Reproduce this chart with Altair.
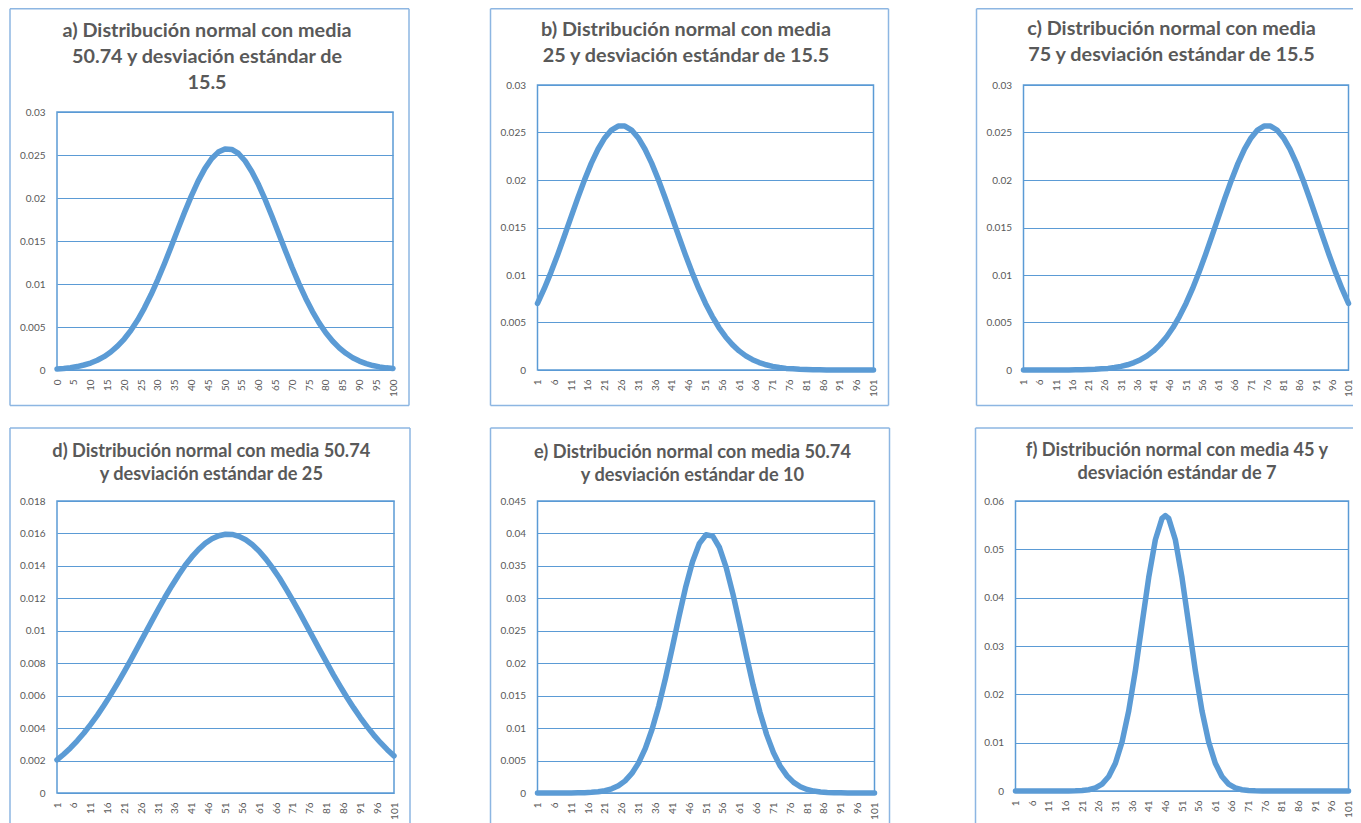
import altair as alt
import pandas as pd

# ---------------- data ----------------
X_A = [0, 2, 4, 6, 8, 10, 12, 14, 16, 18, 20, 22, 24, 26, 28, 30, 32, 34, 36, 38, 40,
       42, 44, 46, 48, 50, 52, 54, 56, 58, 60, 62, 64, 66, 68, 70, 72, 74, 76, 78, 80,
       82, 84, 86, 88, 90, 92, 94, 96, 98, 100]
X_CAT = [1, 3, 5, 7, 9, 11, 13, 15, 17, 19, 21, 23, 25, 27, 29, 31, 33, 35, 37, 39, 41,
         43, 45, 47, 49, 51, 53, 55, 57, 59, 61, 63, 65, 67, 69, 71, 73, 75, 77, 79, 81,
         83, 85, 87, 89, 91, 93, 95, 97, 99, 101]
X_F = [1, 3, 5, 7, 9, 11, 13, 15, 17, 19, 21, 23, 25, 27, 29, 31, 33, 35, 37, 39, 41,
       43, 45, 46, 47, 49, 51, 53, 55, 57, 59, 61, 63, 65, 67, 69, 71, 73, 75, 77, 79,
       81, 83, 85, 87, 89, 91, 93, 95, 97, 99, 101]

Y_A = [0.00012, 0.00018, 0.00027, 0.00040, 0.00058, 0.00081, 0.00113, 0.00155, 0.00209,
       0.00277, 0.00360, 0.00461, 0.00581, 0.00720, 0.00877, 0.01052, 0.01239, 0.01436,
       0.01638, 0.01836, 0.02025, 0.02196, 0.02342, 0.02456, 0.02534, 0.02571, 0.02565,
       0.02518, 0.02430, 0.02306, 0.02153, 0.01977, 0.01785, 0.01585, 0.01385, 0.01189,
       0.01005, 0.00835, 0.00682, 0.00548, 0.00433, 0.00337, 0.00258, 0.00194, 0.00143,
       0.00104, 0.00075, 0.00052, 0.00036, 0.00025, 0.00017]
Y_B = [0.00701, 0.00856, 0.01028, 0.01214, 0.01411, 0.01611, 0.01811, 0.02001, 0.02175,
       0.02324, 0.02443, 0.02526, 0.02568, 0.02568, 0.02526, 0.02443, 0.02324, 0.02175,
       0.02001, 0.01811, 0.01611, 0.01411, 0.01214, 0.01028, 0.00856, 0.00701, 0.00565,
       0.00447, 0.00348, 0.00267, 0.00201, 0.00149, 0.00109, 0.00078, 0.00055, 0.00038,
       0.00026, 0.00017, 0.00012, 0.00007, 0.00005, 0.00003, 0.00002, 0.00001, 0.00001,
       0, 0, 0, 0, 0, 0]
Y_C = [0, 0, 0, 0, 0, 0, 0.00001, 0.00001, 0.00002, 0.00003, 0.00005, 0.00007, 0.00012,
       0.00017, 0.00026, 0.00038, 0.00055, 0.00078, 0.00109, 0.00149, 0.00201, 0.00267,
       0.00348, 0.00447, 0.00565, 0.00701, 0.00856, 0.01028, 0.01214, 0.01411, 0.01611,
       0.01811, 0.02001, 0.02175, 0.02324, 0.02443, 0.02526, 0.02568, 0.02568, 0.02526,
       0.02443, 0.02324, 0.02175, 0.02001, 0.01811, 0.01611, 0.01411, 0.01214, 0.01028,
       0.00856, 0.00701]
Y_D = [0.00204, 0.00239, 0.00278, 0.00322, 0.00370, 0.00423, 0.00480, 0.00542, 0.00608,
       0.00677, 0.00749, 0.00824, 0.00901, 0.00978, 0.01055, 0.01131, 0.01205, 0.01275,
       0.01341, 0.01402, 0.01455, 0.01501, 0.01539, 0.01567, 0.01586, 0.01595, 0.01594,
       0.01582, 0.01561, 0.01530, 0.01490, 0.01442, 0.01386, 0.01325, 0.01257, 0.01186,
       0.01112, 0.01035, 0.00958, 0.00881, 0.00805, 0.00730, 0.00659, 0.00590, 0.00526,
       0.00465, 0.00409, 0.00357, 0.00310, 0.00267, 0.00229]
Y_E = [0, 0, 0, 0, 0, 0.00001, 0.00002, 0.00005, 0.00010, 0.00019, 0.00035, 0.00064,
       0.00112, 0.00187, 0.00301, 0.00464, 0.00689, 0.00983, 0.01346, 0.01772, 0.02241,
       0.02723, 0.03179, 0.03565, 0.03842, 0.03979, 0.03958, 0.03783, 0.03474, 0.03065,
       0.02598, 0.02116, 0.01656, 0.01245, 0.00900, 0.00624, 0.00416, 0.00267, 0.00164,
       0.00097, 0.00055, 0.00030, 0.00016, 0.00008, 0.00004, 0.00002, 0.00001, 0, 0, 0, 0]
Y_F = [0, 0, 0, 0, 0, 0, 0, 0, 0.00001, 0.00003, 0.00010, 0.00026, 0.00063, 0.00143,
       0.00299, 0.00574, 0.01016, 0.01658, 0.02494, 0.03457, 0.04416, 0.05199, 0.05641,
       0.05699, 0.05641, 0.05199, 0.04416, 0.03457, 0.02494, 0.01658, 0.01016, 0.00574,
       0.00299, 0.00143, 0.00063, 0.00026, 0.00010, 0.00003, 0.00001,
       0, 0, 0, 0, 0, 0, 0, 0, 0, 0, 0, 0, 0]

TICKS_A = [0, 5, 10, 15, 20, 25, 30, 35, 40, 45, 50, 55, 60, 65, 70, 75, 80, 85, 90, 95, 100]
TICKS_CAT = [1, 6, 11, 16, 21, 26, 31, 36, 41, 46, 51, 56, 61, 66, 71, 76, 81, 86, 91, 96, 101]
Y_TICKS_ABC = [0, 0.005, 0.01, 0.015, 0.02, 0.025, 0.03]
Y_TICKS_D = [0, 0.002, 0.004, 0.006, 0.008, 0.01, 0.012, 0.014, 0.016, 0.018]
Y_TICKS_E = [0, 0.005, 0.01, 0.015, 0.02, 0.025, 0.03, 0.035, 0.04, 0.045]
Y_TICKS_F = [0, 0.01, 0.02, 0.03, 0.04, 0.05, 0.06]

TITLE_A = ["a) Distribución normal con media", "50.74 y desviación estándar de", "15.5"]
TITLE_B = ["b) Distribución normal con media", "25 y desviación estándar de 15.5"]
TITLE_C = ["c) Distribución normal con media", "75 y desviación estándar de 15.5"]
TITLE_D = ["d) Distribución normal con media 50.74", "y desviación estándar de 25"]
TITLE_E = ["e) Distribución normal con media 50.74", "y desviación estándar de 10"]
TITLE_F = ["f) Distribución normal con media 45 y", "desviación estándar de 7"]

# ---------------- styling ----------------
FONT = "Lato"
LINE_COLOR = "#5B9BD5"
GRID_COLOR = "#5B9BD5"
BOX_COLOR = "#8DB6E2"
TEXT_COLOR = "#595959"
T1, T2 = 19.8, 18.2
NO_VIEW = alt.ViewBackground(stroke="transparent", strokeOpacity=0, strokeWidth=0)


def panel(xs, ys, lines, w, h, ptop, xdom, xticks, ydom, yticks, sides, tx, ty, tsize, tlh):
    data = pd.DataFrame({"x": xs, "y": ys})
    one = pd.DataFrame({"k": [0]})
    layers = []
    for (x1, y1, x2, y2) in sides:
        layers.append(
            alt.Chart(one).mark_rule(color=BOX_COLOR, strokeWidth=1.5).encode(
                x=alt.value(x1), y=alt.value(y1), x2=alt.value(x2), y2=alt.value(y2))
        )
    layers.append(
        alt.Chart(one).mark_rect(fill="transparent", stroke=LINE_COLOR, strokeWidth=1.5).encode(
            x=alt.value(0), x2=alt.value(w), y=alt.value(ptop), y2=alt.value(h))
    )
    layers.append(
        alt.Chart(data).mark_line(
            color=LINE_COLOR, strokeWidth=5.5, strokeCap="round", strokeJoin="round"
        ).encode(
            x=alt.X("x:Q", title=None,
                    scale=alt.Scale(domain=xdom, nice=False, zero=False),
                    axis=alt.Axis(values=xticks, labelAngle=-90, labelPadding=9,
                                  labelFontSize=10, grid=False, ticks=False, domain=False,
                                  labelFlush=False, labelOverlap=False,
                                  labelColor=TEXT_COLOR, labelFont=FONT)),
            y=alt.Y("y:Q", title=None,
                    scale=alt.Scale(domain=ydom, nice=False, zero=True, range=[h, ptop]),
                    axis=alt.Axis(values=yticks, format="~g", labelPadding=12,
                                  labelFontSize=10, grid=True, gridColor=GRID_COLOR,
                                  gridWidth=1, ticks=False, domain=False,
                                  labelFlush=False, labelOverlap=False,
                                  labelColor=TEXT_COLOR, labelFont=FONT)),
        )
    )
    layers.append(
        alt.Chart(one).mark_text(
            text=lines, font=FONT, fontSize=tsize, fontWeight="bold", color=TEXT_COLOR,
            align="center", baseline="alphabetic", lineHeight=tlh
        ).encode(x=alt.value(tx), y=alt.value(ty))
    )
    return alt.layer(*layers).properties(width=w, height=h, view=NO_VIEW)


def box(left, top, right, bottom, show_right=True, show_bottom=True):
    s = [(left, top, left, bottom), (left, top, right, top)]
    if show_right:
        s.append((right, top, right, bottom))
    if show_bottom:
        s.append((left, bottom, right, bottom))
    return s


# top row: plot areas share origin y (abs 85); panel a's plot starts 27px lower
pa = panel(X_A, Y_A, TITLE_A, 336, 285, 27, [0, 100], TICKS_A, [0, 0.03], Y_TICKS_ABC,
           box(-47, -76.25, 352, 320.5), 150, -48, T1, 26)
pb = panel(X_CAT, Y_B, TITLE_B, 336, 285, 0, [1, 101], TICKS_CAT, [0, 0.03], Y_TICKS_ABC,
           box(-47, -76.25, 351, 320.5), 148.5, -49, T1, 26)
pc = panel(X_CAT, Y_C, TITLE_C, 325, 285, 0, [1, 101], TICKS_CAT, [0, 0.03], Y_TICKS_ABC,
           box(-47, -76.25, 345, 320.5, show_right=False), 148, -50, T1, 26)
# bottom row: origin y abs 500
pd_ = panel(X_CAT, Y_D, TITLE_D, 337, 292, 0, [1, 101], TICKS_CAT, [0, 0.018], Y_TICKS_D,
            box(-47, -73, 353, 330, show_bottom=False), 154.3, -44, T2, 23)
pe = panel(X_CAT, Y_E, TITLE_E, 337, 292, 0, [1, 101], TICKS_CAT, [0, 0.045], Y_TICKS_E,
           box(-47, -73, 352, 330, show_bottom=False), 155, -43.5, T2, 23)
pf = panel(X_F, Y_F, TITLE_F, 333, 290, 0, [1, 101], TICKS_CAT, [0, 0.06], Y_TICKS_F,
           box(-40, -73, 352, 330, show_right=False, show_bottom=False), 161.5, -45, T2, 23)

row1 = alt.hconcat(alt.hconcat(pa, pb, spacing=79.5), pc, spacing=85.5)
row2 = alt.hconcat(alt.hconcat(pd_, pe, spacing=78.5), pf, spacing=83.5)

# fixed canvas of 1345 x 815 px (the page's visible area); the outer frames run off the edge
chart = alt.vconcat(row1, row2, spacing=20).properties(
    autosize=alt.AutoSizeParams(type="none"),
    padding={"left": 49, "top": 77, "right": 1296, "bottom": 738}
).configure_view(
    stroke="transparent", strokeOpacity=0, strokeWidth=0
).configure(font=FONT)

chart.save("out.html", embed_options={"renderer": "svg", "actions": False})
